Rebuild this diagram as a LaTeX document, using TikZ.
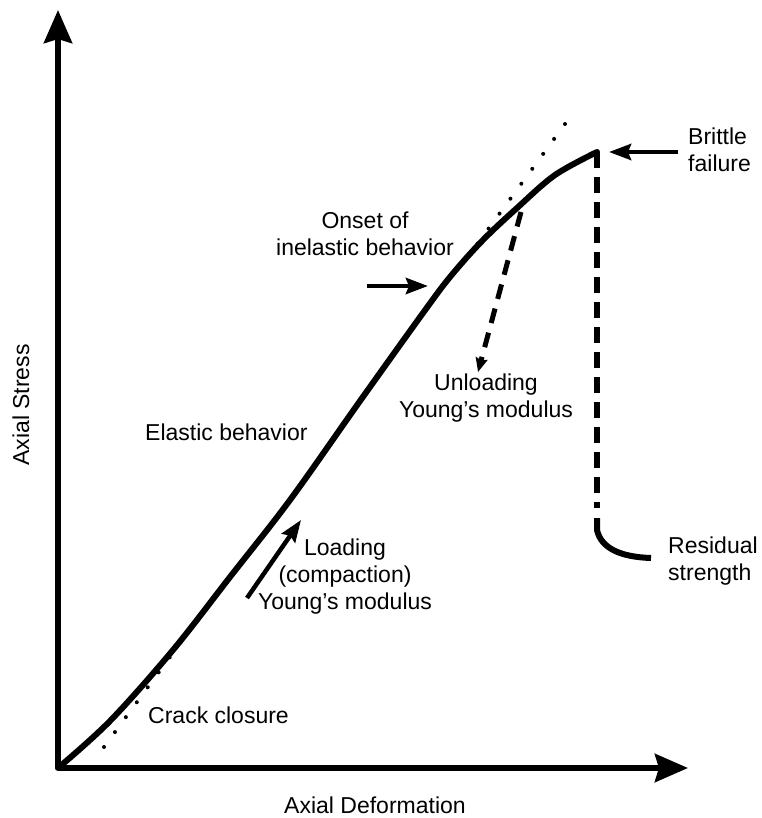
\documentclass[tikz,border=0pt]{standalone}
\usepackage{fontspec}
\setmainfont{Liberation Sans}
\usetikzlibrary{arrows.meta}
\begin{document}
\begin{tikzpicture}[x=1pt,y=-1pt,
  lbl/.style={inner sep=0pt, font=\fontsize{23}{27}\selectfont},
  axis/.style={line width=6pt, -{Stealth[length=33pt,width=28pt,inset=4pt]}},
  curve/.style={line width=6pt, line cap=round, line join=round},
  pointer/.style={line width=4.5pt, -{Stealth[length=22pt,width=16pt,inset=3pt]}},
  tangent/.style={line width=4pt, dash pattern=on 0pt off 18.5pt, line cap=round},
  unload/.style={line width=5pt, dash pattern=on 15pt off 10pt, -{Stealth[length=14pt,width=12pt,inset=2pt]}},
  failure/.style={line width=6pt, dash pattern=on 16pt off 9pt}]
\useasboundingbox (0,0) rectangle (761,818);

% axes
\coordinate (O) at (58,768);
\coordinate (ytop) at (58,10);
\coordinate (xend) at (688,768);
\draw[axis] (O) -- (ytop);
\draw[axis] (O) -- (xend);

% tangent dotted lines
\coordinate (t1a) at (104,747);
\coordinate (t1b) at (230,575);
\draw[tangent] (t1a) -- (t1b);
\coordinate (t2a) at (565,124);
\coordinate (t2b) at (470,254);
\draw[tangent] (t2a) -- (t2b);

% stress-strain curve
\coordinate (peak) at (597,152);
\draw[curve] plot[smooth, tension=0.55] coordinates {(58,768) (110,721) (173,650) (230,577) (290,500) (360,401) (423,313) (450,277) (482,241) (517,208) (555,175) (597,152)};

% brittle failure drop
\coordinate (dropend) at (597,508);
\draw[failure] (peak) -- (dropend);
\coordinate (resA) at (597,518);
\coordinate (resB) at (651,558);
\draw[curve, line cap=butt] (resA) -- (597,530) .. controls (601,548) and (620,557) .. (resB);

% unloading dashed arrow
\coordinate (unA) at (521,212);
\coordinate (unB) at (478,372);
\draw[unload] (unA) -- (unB);

% pointer arrows
\coordinate (brA) at (678,152);
\coordinate (brB) at (609,152);
\draw[pointer] (brA) -- (brB);
\coordinate (onA) at (367,286);
\coordinate (onB) at (428,286);
\draw[pointer] (onA) -- (onB);
\coordinate (ldA) at (247,598);
\coordinate (ldB) at (301,520);
\draw[pointer] (ldA) -- (ldB);

% labels
\node[lbl, align=left, anchor=west] (brittle) at (688,150) {Brittle\\failure};
\node[lbl, align=center] (onset) at (365,234) {Onset of\\inelastic behavior};
\node[lbl, align=center] (unloading) at (486,398) {Unloading\\Young's modulus};
\node[lbl, anchor=west] (elastic) at (145,432) {Elastic behavior};
\node[lbl, align=center] (loading) at (345,577) {Loading\\(compaction)\\Young's modulus};
\node[lbl, anchor=west] (crack) at (148,715) {Crack closure};
\node[lbl, align=left, anchor=west] (residual) at (668,561) {Residual\\strength};
\node[lbl] (xlabel) at (375,805) {Axial Deformation};
\node[lbl, rotate=90] (ylabel) at (21,405) {Axial Stress};
\end{tikzpicture}
\end{document}
